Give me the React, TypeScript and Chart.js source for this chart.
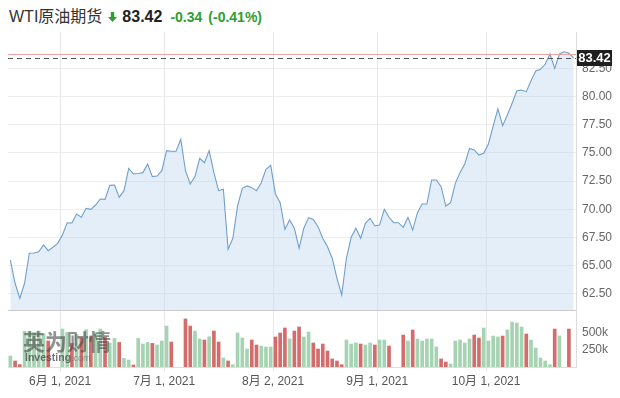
import React, { useEffect, useRef } from 'react';
import { Chart, registerables } from 'chart.js';

Chart.register(...registerables);

// ---- data ----
const dates = [
  '2021-05-18','2021-05-19','2021-05-20','2021-05-21','2021-05-24','2021-05-25','2021-05-26','2021-05-27','2021-05-28','2021-05-30','2021-05-31',
  '2021-06-01','2021-06-02','2021-06-03','2021-06-04','2021-06-07','2021-06-08','2021-06-09','2021-06-10','2021-06-11','2021-06-14','2021-06-15',
  '2021-06-16','2021-06-17','2021-06-18','2021-06-21','2021-06-22','2021-06-23','2021-06-24','2021-06-25','2021-06-28','2021-06-29','2021-06-30',
  '2021-07-01','2021-07-02','2021-07-04','2021-07-05','2021-07-06','2021-07-07','2021-07-08','2021-07-09','2021-07-12','2021-07-13','2021-07-14',
  '2021-07-15','2021-07-16','2021-07-19','2021-07-20','2021-07-21','2021-07-22','2021-07-23','2021-07-26','2021-07-27','2021-07-28','2021-07-29','2021-07-30',
  '2021-08-02','2021-08-03','2021-08-04','2021-08-05','2021-08-06','2021-08-09','2021-08-10','2021-08-11','2021-08-12','2021-08-13','2021-08-16',
  '2021-08-17','2021-08-18','2021-08-19','2021-08-20','2021-08-23','2021-08-24','2021-08-25','2021-08-26','2021-08-27','2021-08-30','2021-08-31',
  '2021-09-01','2021-09-02','2021-09-03','2021-09-05','2021-09-06','2021-09-07','2021-09-08','2021-09-09','2021-09-10','2021-09-13','2021-09-14',
  '2021-09-15','2021-09-16','2021-09-17','2021-09-20','2021-09-21','2021-09-22','2021-09-23','2021-09-24','2021-09-27','2021-09-28','2021-09-29','2021-09-30',
  '2021-10-01','2021-10-04','2021-10-05','2021-10-06','2021-10-07','2021-10-08','2021-10-11','2021-10-12','2021-10-13','2021-10-14','2021-10-15',
  '2021-10-18','2021-10-19','2021-10-20','2021-10-21','2021-10-22','2021-10-24','2021-10-25','2021-10-26',
];

const prices = [
  65.50, 63.44, 62.10, 63.44, 66.10, 66.12, 66.24, 66.84, 66.33, 66.63, 66.98,
  67.72, 68.81, 68.78, 69.58, 69.29, 70.09, 70.00, 70.38, 70.91, 70.88, 72.12,
  72.15, 71.06, 71.65, 73.63, 73.13, 73.18, 73.25, 74.02, 72.90, 72.95, 73.42,
  75.20, 75.14, 75.14, 76.20, 73.42, 72.24, 72.90, 74.52, 74.13, 75.20, 73.25,
  71.65, 71.77, 66.45, 67.43, 70.30, 71.86, 72.07, 71.92, 71.65, 72.36, 73.55, 73.90,
  71.36, 70.59, 68.23, 69.05, 68.32, 66.54, 68.32, 69.26, 69.10, 68.46, 67.43,
  66.68, 65.66, 63.88, 62.40, 65.66, 67.52, 68.32, 67.43, 68.76, 69.20, 68.52,
  68.60, 70.00, 69.29, 68.81, 68.81, 68.40, 69.29, 68.16, 69.70, 70.47, 70.47,
  72.60, 72.60, 72.00, 70.29, 70.59, 72.30, 73.25, 74.02, 75.40, 75.26, 74.81, 74.96,
  75.79, 77.38, 78.90, 77.41, 78.36, 79.40, 80.51, 80.57, 80.43, 81.40, 82.26,
  82.41, 82.88, 83.77, 82.50, 83.77, 83.97, 83.83, 83.42,
];

// volume in thousands (null = no volume bar)
const volumesK = [
  159, 87, 34, 516, 516, 500, 520, 480, 376, null, null,
  549, 500, 341, 470, 420, 540, 440, 500, 549, 430, 347,
  413, 355, 124, 101, 29, 413, 332, 355, 341, 318, 376,
  592, 361, null, null, 694, 592, 520, 405, 390, 438, 520,
  361, 130, 87, 33, 491, 419, 260, 390, 318, 303, 289, 289,
  434, 491, 564, 405, 520, 578, 434, 506, 347, 260, 332,
  231, 116, 87, 33, 390, 332, 347, 332, 318, 347, 318,
  390, 390, 303, null, null, 462, 376, 535, 405, 376, 405,
  405, 289, 116, 72, 43, 376, 390, 347, 405, 462, 419, 564,
  376, 448, 434, 448, 535, 650, 636, 578, 477, 390, 275,
  130, 87, 33, 549, 448, null, 549, null,
];

const priceTicks = [62.5, 65, 67.5, 70, 72.5, 75, 77.5, 80, 82.5];
const volumeTicksK = [250, 500];
const tickDates = ['2021-06-01', '2021-07-01', '2021-08-02', '2021-09-01', '2021-10-01'];
const tickTexts = ['6月 1, 2021', '7月 1, 2021', '8月 2, 2021', '9月 1, 2021', '10月 1, 2021'];
const prevClose = 83.76;
const lastPrice = prices[prices.length - 1];
const title = 'WTI原油期货';

// ---- style ----
const FONT = "'Liberation Sans', Arial, 'Noto Sans CJK SC', sans-serif";
const GREEN_TXT = '#2f9e2f';
const UP = '#a6d4b3';
const DOWN = '#d46c6c';
const PRICE_MIN = 61.07;
const PRICE_MAX = 85.72;
const VOL_MAX = 824;

const barColors = volumesK.map((_, i) =>
  i === 0 || prices[i] >= prices[i - 1] ? UP : DOWN
);

const refLines = {
  id: 'refLines',
  afterDatasetsDraw(chart: any) {
    const { ctx, chartArea, scales } = chart;
    const y1 = Math.round(scales.yp.getPixelForValue(prevClose)) + 0.5;
    const y2 = Math.round(scales.yp.getPixelForValue(lastPrice)) + 0.5;
    ctx.save();
    ctx.lineWidth = 1;
    ctx.strokeStyle = '#eba3a3';
    ctx.beginPath();
    ctx.moveTo(chartArea.left, y1);
    ctx.lineTo(chartArea.right, y1);
    ctx.stroke();
    ctx.setLineDash([5, 4]);
    ctx.strokeStyle = '#555555';
    ctx.beginPath();
    ctx.moveTo(chartArea.left, y2);
    ctx.lineTo(chartArea.right, y2);
    ctx.stroke();
    ctx.restore();
  },
  afterDraw(chart: any) {
    const { ctx, chartArea, scales } = chart;
    const y = scales.yp.getPixelForValue(lastPrice);
    const x = chartArea.right + 1;
    const w = 35;
    const h = 16;
    ctx.save();
    ctx.fillStyle = '#1f1f1f';
    ctx.fillRect(x, Math.round(y - h / 2), w, h);
    ctx.fillStyle = '#ffffff';
    ctx.font = `bold 13px ${FONT}`;
    ctx.textAlign = 'center';
    ctx.textBaseline = 'middle';
    ctx.fillText(lastPrice.toFixed(2), x + w / 2, Math.round(y) + 0.5);
    ctx.restore();
  },
};

export default function App() {
  const ref = useRef<HTMLCanvasElement>(null);

  useEffect(() => {
    if (!ref.current) return;
    const axisFont = { family: FONT, size: 12 };
    const chart = new Chart(ref.current, {
      type: 'bar',
      data: {
        labels: dates,
        datasets: [
          {
            type: 'line',
            data: prices,
            yAxisID: 'yp',
            borderColor: '#6f9fcd',
            borderWidth: 1.1,
            backgroundColor: 'rgba(190,215,238,0.42)',
            fill: 'start',
            pointRadius: 0,
            tension: 0,
          } as any,
          {
            type: 'bar',
            data: volumesK,
            yAxisID: 'yv',
            backgroundColor: barColors,
            barThickness: 3,
          } as any,
        ],
      },
      options: {
        responsive: false,
        animation: false,
        events: [],
        layout: { padding: { top: 4, bottom: 7, left: 0, right: 0 } },
        plugins: { legend: { display: false }, tooltip: { enabled: false } },
        scales: {
          x: {
            type: 'category',
            offset: true,
            grid: {
              offset: true,
              tickLength: 5,
              color: (c: any) =>
                c.tick && tickDates.includes(dates[c.index]) ? '#e8e8e8' : 'rgba(0,0,0,0)',
            },
            border: { display: true, color: '#dedede' },
            ticks: {
              autoSkip: false,
              maxRotation: 0,
              minRotation: 0,
              padding: 2,
              labelOffset: -2.37,
              color: '#555555',
              font: axisFont,
              callback: (_v: any, i: number) => {
                const k = tickDates.indexOf(dates[i]);
                return k >= 0 ? tickTexts[k] : '';
              },
            },
            afterFit: (s: any) => {
              s.height = 24;
              s.paddingLeft = 0;
              s.paddingRight = 0;
            },
          },
          yp: {
            type: 'linear',
            position: 'right',
            stack: 'panels',
            stackWeight: 278,
            weight: 0,
            min: PRICE_MIN,
            max: PRICE_MAX,
            afterBuildTicks: (ax: any) => {
              ax.ticks = priceTicks.map((v) => ({ value: v }));
            },
            grid: { color: '#ededed', drawTicks: false },
            border: { display: true, color: '#dcdcdc' },
            ticks: {
              autoSkip: false,
              padding: 6,
              color: '#666666',
              font: axisFont,
              callback: (v: any) => Number(v).toFixed(2),
            },
            afterFit: (s: any) => {
              s.width = 38;
              s.paddingTop = 0;
              s.paddingBottom = 0;
            },
          },
          yv: {
            type: 'linear',
            position: 'right',
            stack: 'panels',
            stackWeight: 57,
            weight: 1,
            min: 0,
            max: VOL_MAX,
            afterBuildTicks: (ax: any) => {
              ax.ticks = [...volumeTicksK, VOL_MAX].map((v) => ({ value: v }));
            },
            grid: {
              drawTicks: false,
              color: (c: any) => (c.tick && c.tick.value === VOL_MAX ? '#cbcbcb' : 'rgba(0,0,0,0)'),
            },
            border: { display: true, color: '#dcdcdc' },
            ticks: {
              autoSkip: false,
              padding: 6,
              color: '#666666',
              font: axisFont,
              callback: (v: any) => (v === VOL_MAX ? '' : `${v}k`),
            },
            afterFit: (s: any) => {
              s.width = 38;
              s.paddingTop = 0;
              s.paddingBottom = 0;
            },
          },
        },
      } as any,
      plugins: [refLines],
    });
    return () => chart.destroy();
  }, []);

  const change = lastPrice - prevClose;
  const pct = (change / prevClose) * 100;

  return (
    <div
      style={{
        position: 'absolute',
        left: 0,
        top: 0,
        width: 620,
        height: 398,
        overflow: 'hidden',
        background: '#ffffff',
        fontFamily: FONT,
      }}
    >
      <div
        style={{
          position: 'absolute',
          left: 9,
          top: 3,
          display: 'flex',
          alignItems: 'baseline',
          whiteSpace: 'nowrap',
        }}
      >
        <span style={{ fontSize: 16, color: '#333333' }}>{title}</span>
        <svg width="9" height="10" viewBox="0 0 9 10" style={{ marginLeft: 6 }}>
          <path d="M2.8 0H6.2V5H9L4.5 10L0 5H2.8Z" fill={GREEN_TXT} />
        </svg>
        <span style={{ marginLeft: 5, fontSize: 16, fontWeight: 700, color: '#222222' }}>
          {lastPrice.toFixed(2)}
        </span>
        <span style={{ marginLeft: 8, fontSize: 14, fontWeight: 700, color: GREEN_TXT }}>
          {change.toFixed(2)}
        </span>
        <span style={{ marginLeft: 6, fontSize: 14, fontWeight: 700, color: GREEN_TXT }}>
          ({pct.toFixed(2)}%)
        </span>
      </div>
      <canvas
        ref={ref}
        width={606}
        height={370}
        style={{ position: 'absolute', left: 8, top: 28, width: 606, height: 370 }}
      />
      <div
        style={{
          position: 'absolute',
          left: 23,
          top: 329,
          pointerEvents: 'none',
          whiteSpace: 'nowrap',
        }}
      >
        <div
          style={{
            fontFamily: "'Noto Sans CJK SC', sans-serif",
            fontWeight: 700,
            fontSize: 22,
            lineHeight: '22px',
            color: 'rgba(70,72,70,0.6)',
          }}
        >
          英为财情
        </div>
        <div style={{ marginTop: -1, marginLeft: 2, lineHeight: '11px' }}>
          <span style={{ fontSize: 10.5, fontWeight: 700, color: 'rgba(60,60,60,0.7)' }}>Investing</span>
          <span style={{ fontSize: 9, color: 'rgba(90,90,90,0.6)' }}>.com</span>
        </div>
      </div>
    </div>
  );
}
